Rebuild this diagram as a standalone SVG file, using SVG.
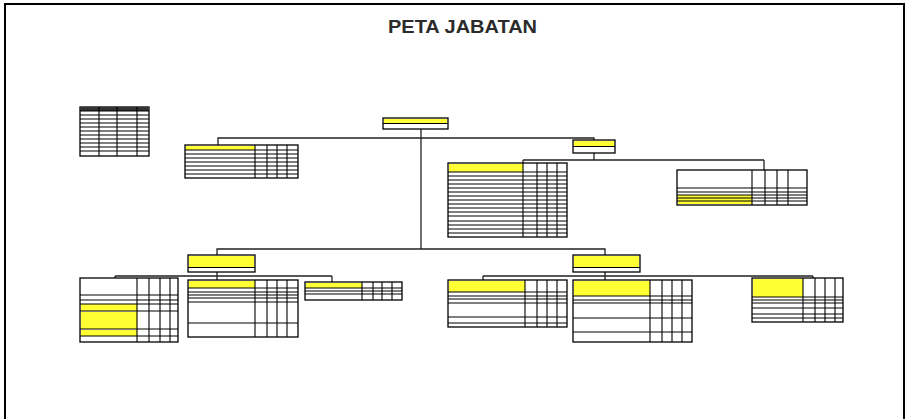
<svg xmlns="http://www.w3.org/2000/svg" width="909" height="419" viewBox="0 0 909 419">
<style>
.t{fill:#fff;stroke:#000;stroke-width:1.3}
.y{fill:#ffff33}
.ln{stroke:#000;stroke-width:1.1;fill:none}
.c{stroke:#222;stroke-width:1.3;fill:none}
.title{font-family:"Liberation Sans",Arial,sans-serif;font-weight:bold;font-size:18px;fill:#2b2b2b}
</style>
<rect x="0" y="0" width="909" height="419" fill="#fff"/>
<rect x="5" y="4" width="899" height="440" fill="none" stroke="#000" stroke-width="2"/>
<text class="title" x="388" y="33" textLength="149" lengthAdjust="spacingAndGlyphs">PETA JABATAN</text>

<g id="connectors">
<path class="c" d="M421 129V249M218 145V138H594V140M594 153V160M523 160H764M523 160V163M764 160V170M217 255V249H605V255M217 272V276M115 276H332M115 276V278M217 276V280M332 276V282M605 272V276M483 276H813M483 276V280M605 276V280M813 276V278"/>
</g>

<g id="legend">
<rect class="t" x="80" y="107" width="69" height="49"/>
<rect x="80" y="107" width="69" height="4" fill="#333"/>
<path class="ln" d="M99 107V156M117 107V156M137 107V156M80 111H149M80 115H149M80 119H149M80 123H149M80 127H149M80 131H149M80 135H149M80 139H149M80 143H149M80 147H149M80 151H149"/>
</g>

<g id="kepala">
<rect class="t" x="383" y="118" width="65" height="11"/>
<rect class="y" x="384" y="119" width="63" height="4"/>
<path class="ln" d="M383 123.5H448"/>
</g>

<g id="tabelA">
<rect class="t" x="185" y="145" width="113" height="33"/>
<rect class="y" x="186" y="146" width="69" height="4"/>
<path class="ln" d="M255 145V178M267 145V178M277 145V178M287 145V178M185 150H298M185 154H298M185 158H298M185 162H298M185 166H298M185 170H298M185 174H298"/>
</g>

<g id="sekretaris">
<rect class="t" x="573" y="140" width="42" height="13"/>
<rect class="y" x="574" y="141" width="40" height="5"/>
<path class="ln" d="M573 146.5H615"/>
</g>

<g id="tabelB">
<rect class="t" x="448" y="163" width="119" height="74"/>
<rect class="y" x="449" y="164" width="74" height="8"/>
<path class="ln" d="M523 163V237M537 163V237M547 163V237M557 163V237M448 172H567M448 176H567M448 180H567M448 184H567M448 188H567M448 192H567M448 196H567M448 200H567M448 204H567M448 208H567M448 212H567M448 216H567M448 221H567M448 225H567M448 229H567M448 233H567"/>
</g>

<g id="tabelC">
<rect class="t" x="677" y="170" width="130" height="35"/>
<rect class="y" x="678" y="195" width="74" height="9"/>
<path class="ln" d="M752 170V205M765 170V205M777 170V205M788 170V205M677 188H807M677 192H807M677 195H807M677 198H807M677 201H807"/>
</g>

<g id="kabid1">
<rect class="t" x="188" y="255" width="67" height="17"/>
<rect class="y" x="189" y="256" width="65" height="11"/>
<path class="ln" d="M188 267.5H255"/>
</g>

<g id="tabelD">
<rect class="t" x="80" y="278" width="98" height="64"/>
<rect class="y" x="81" y="304" width="56" height="7"/>
<rect class="y" x="81" y="312" width="56" height="17"/>
<rect class="y" x="81" y="330" width="56" height="6"/>
<path class="ln" d="M137 278V342M149 278V342M160 278V342M170 278V342M80 295H178M80 300H178M80 304H178M80 311H178M80 329H178M80 336H178"/>
</g>

<g id="tabelE">
<rect class="t" x="188" y="280" width="110" height="57"/>
<rect class="y" x="189" y="281" width="66" height="7"/>
<path class="ln" d="M255 280V337M267 280V337M277 280V337M287 280V337M188 288H298M188 292H298M188 295H298M188 298H298M188 302H298M188 323H298"/>
</g>

<g id="tabelF">
<rect class="t" x="305" y="282" width="97" height="18"/>
<rect class="y" x="306" y="283" width="56" height="5"/>
<path class="ln" d="M362 282V300M373 282V300M382 282V300M392 282V300M305 288H402M305 291H402M305 294H402"/>
</g>

<g id="kabid2">
<rect class="t" x="573" y="255" width="67" height="17"/>
<rect class="y" x="574" y="256" width="65" height="11"/>
<path class="ln" d="M573 267.5H640"/>
</g>

<g id="tabelG">
<rect class="t" x="448" y="280" width="119" height="47"/>
<rect class="y" x="449" y="281" width="76" height="11"/>
<path class="ln" d="M525 280V327M537 280V327M547 280V327M557 280V327M448 292H567M448 296H567M448 299H567M448 303H567M448 317H567M448 323H567"/>
</g>

<g id="tabelH">
<rect class="t" x="573" y="280" width="119" height="62"/>
<rect class="y" x="574" y="281" width="76" height="15"/>
<path class="ln" d="M650 280V342M662 280V342M672 280V342M682 280V342M573 296H692M573 300H692M573 303H692M573 318H692M573 332H692"/>
</g>

<g id="tabelI">
<rect class="t" x="752" y="278" width="91" height="44"/>
<rect class="y" x="753" y="279" width="50" height="18"/>
<path class="ln" d="M803 278V322M815 278V322M825 278V322M835 278V322M752 297H843M752 300H843M752 303H843M752 308H843M752 314H843M752 318H843"/>
</g>
</svg>
